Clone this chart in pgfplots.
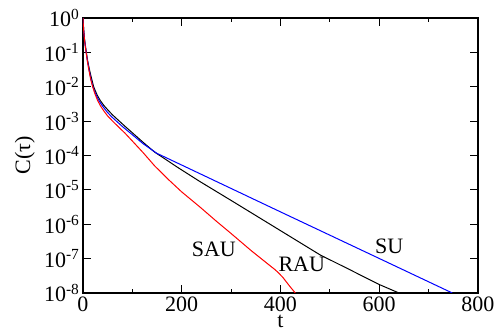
\documentclass[border=0pt]{standalone}
\usepackage{fontspec}
\setmainfont{Liberation Serif}
\usepackage{pgfplots}
\pgfplotsset{compat=1.18}
\begin{document}
\begin{tikzpicture}[font=\fontsize{11}{13}\selectfont]
\useasboundingbox (-41.5pt,-19pt) rectangle (208pt,146.5pt);
\begin{axis}[
  at={(0,0)}, anchor=south west,
  scale only axis, width=197.5pt, height=137.5pt,
  ymode=log,
  xmin=0, xmax=800, ymin=1e-8, ymax=1,
  xtick={0,200,400,600,800},
  minor x tick num=1,
  ytick={1e-8,1e-7,1e-6,1e-5,1e-4,1e-3,1e-2,1e-1,1},
  yticklabels={10\textsuperscript{-8},10\textsuperscript{-7},10\textsuperscript{-6},10\textsuperscript{-5},10\textsuperscript{-4},10\textsuperscript{-3},10\textsuperscript{-2},10\textsuperscript{-1},10\textsuperscript{0}},
  yminorticks=false,
  tick align=inside,
  major tick length=3.8pt, minor tick length=2.2pt,
  /pgf/number format/assume math mode=true,
  axis line style={line width=0.9pt},
  every tick/.style={black, line width=0.6pt},
  xticklabel style={yshift=1.5pt},
  yticklabel style={xshift=2pt},
  xlabel={t}, ylabel={C(τ)},
  xlabel style={at={(axis description cs:0.5,-0.103)}, anchor=center, inner sep=0pt},
  ylabel style={at={(axis description cs:-0.147,0.5)}, anchor=center},
]
% RAU (black)
\addplot[black, line width=0.5pt] coordinates {
(0,1) (0.5,0.708) (1.5,0.447) (3,0.251) (5,0.151) (7,0.0955) (9.5,0.0562)
(12.9,0.0324) (17,0.0182) (21.6,0.01) (25,7.59e-3) (29,5.62e-3) (35,3.98e-3)
(42,2.88e-3) (50,2.14e-3) (60,1.51e-3) (72,1.05e-3) (85,7.08e-4) (100,4.57e-4)
(122,2.40e-4) (145,1.26e-4) (190,4.68e-5) (237,1.74e-5) (298,5.13e-6)
(380,9.77e-7) (480,1.29e-7) (540,4.79e-8) (601,1.74e-8) (640,1e-8)
};
% SU (blue)
\addplot[blue, line width=0.5pt] coordinates {
(0,1) (0.5,0.692) (1.5,0.427) (3,0.240) (5,0.141) (6.7,0.0955) (9,0.0562)
(12.5,0.0302) (16,0.0170) (20,0.01) (24,7.08e-3) (28,5.25e-3) (33,3.80e-3)
(40,2.69e-3) (48,1.91e-3) (57,1.38e-3) (67,1.02e-3) (80,6.92e-4) (102,3.80e-4)
(122,2.19e-4) (149,1.17e-4) (237,2.95e-5) (400,2.29e-6) (600,1.01e-7) (748,1e-8)
};
% SAU (red)
\addplot[red, line width=0.5pt] coordinates {
(0,1) (0.5,0.692) (1.5,0.417) (3,0.229) (5,0.135) (6.3,0.1) (9,0.0537)
(12,0.0302) (15.5,0.0166) (19.6,0.01) (24,6.31e-3) (29,4.17e-3) (35,2.82e-3)
(42,2.00e-3) (50,1.41e-3) (60,1e-3) (72,6.76e-4) (85,4.47e-4) (100,2.63e-4)
(122,1.20e-4) (145,5.01e-5) (173,2.00e-5) (200,8.71e-6) (237,3.16e-6)
(270,1.23e-6) (300,5.37e-7) (340,1.74e-7) (380,6.03e-8) (388,4.90e-8)
(395,3.98e-8) (405,2.82e-8) (419,1.55e-8) (430,1e-8)
};
\node at (axis cs:265,1.82e-7) {SAU};
\node at (axis cs:443,6.6e-8) {RAU};
\node at (axis cs:620,2.24e-7) {SU};
\end{axis}
\end{tikzpicture}
\end{document}
